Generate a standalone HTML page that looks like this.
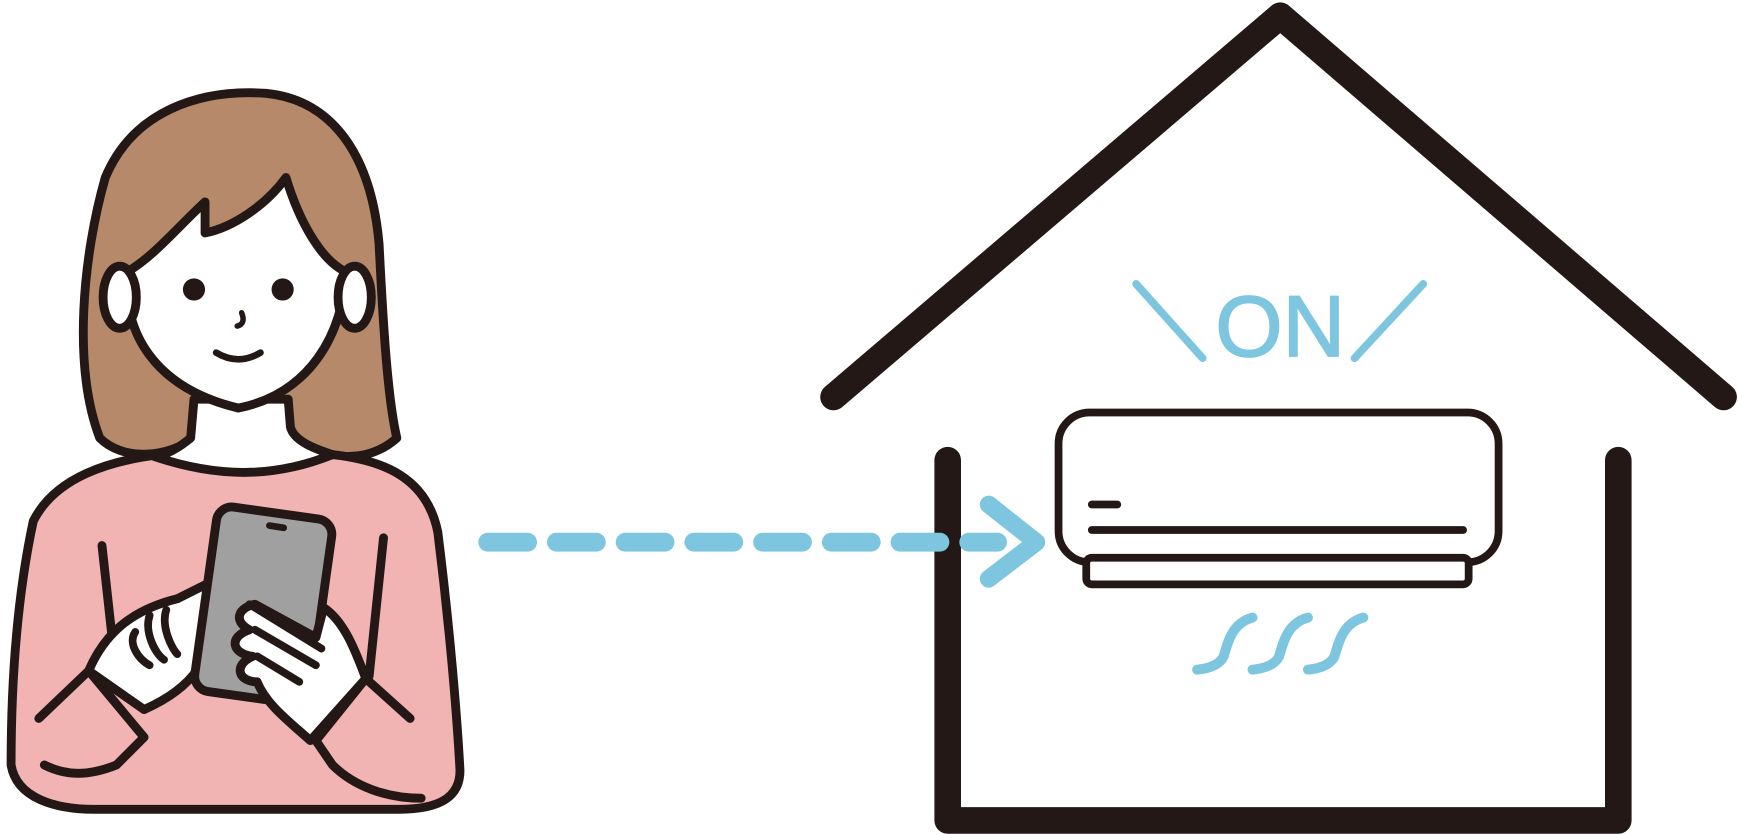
<!DOCTYPE html>
<html><head><style>html,body{margin:0;padding:0;background:#fff;}svg{display:block}</style></head>
<body>
<svg width="1738" height="835" viewBox="0 0 1568 753" xmlns="http://www.w3.org/2000/svg">
<g stroke="#231815" stroke-linecap="round" stroke-linejoin="round" fill="none">
<polyline points="752,358 1155,14 1555,358" stroke-width="24"/>
<polyline points="855,415 855,740 1460,740 1460,415" stroke-width="24"/>
<rect x="955" y="372" width="397" height="135" rx="28" fill="#fff" stroke-width="7"/>
<rect x="980" y="503" width="345" height="24" rx="5" fill="#fff" stroke-width="7"/>
<line x1="985" y1="455" x2="1008" y2="455" stroke-width="7"/>
<line x1="985" y1="478" x2="1320" y2="478" stroke-width="7"/>
</g>
<g stroke="#7ec6e0" stroke-linecap="round" fill="none">
<line x1="1025" y1="256" x2="1085" y2="323" stroke-width="7"/>
<line x1="1284" y1="256" x2="1222" y2="323" stroke-width="7"/>
<path d="M1130,557 C1112,562 1108,578 1104,592 C1100,600 1090,603 1080,604" stroke-width="9"/>
<path d="M1180,557 C1162,562 1158,578 1154,592 C1150,600 1140,603 1130,604" stroke-width="9"/>
<path d="M1230,557 C1212,562 1208,578 1204,592 C1200,600 1190,603 1180,604" stroke-width="9"/>
<line x1="440" y1="489" x2="900" y2="489" stroke-width="17" stroke-dasharray="36,26"/>
<polyline points="892,455 935,489 892,522" stroke-width="16" stroke-linejoin="round"/>
</g>
<text x="1155" y="321" text-anchor="middle" font-family="Liberation Sans, sans-serif" font-size="78" fill="#7ec6e0" stroke="#7ec6e0" stroke-width="1.5">ON</text>
<g stroke="#231815" stroke-width="8" stroke-linecap="round" stroke-linejoin="round">
<path d="M90,395 C65,330 75,230 95,160 C120,100 180,80 240,84 C300,90 335,140 342,220 C346,300 350,360 358,395 C330,420 290,415 260,392 L180,392 C150,415 110,415 90,395 Z" fill="#b5896a"/>
<path d="M30,470 C50,430 100,415 145,410 L300,410 C345,415 385,430 395,480 C405,560 412,640 415,695 C415,720 395,730 360,730 L85,730 C50,730 15,720 10,690 C10,620 15,540 30,470 Z" fill="#f2b3b3"/>
<path d="M175,360 L172,395 C160,405 150,410 140,412 C200,432 250,430 300,410 C285,405 265,398 262,385 L260,360 Z" fill="#fff"/>
<path d="M115,245 C110,300 140,350 215,368 C280,355 310,300 312,245 C290,235 270,200 258,160 C240,185 210,205 185,210 L185,182 C160,205 140,230 115,245 Z" fill="#fff"/>
<ellipse cx="108" cy="268" rx="15" ry="28" fill="#fff"/>
<ellipse cx="320" cy="268" rx="15" ry="28" fill="#fff"/>
<path d="M195,318 Q215,330 235,318" fill="none" stroke-width="6"/>
<path d="M218,282 Q222,292 214,294" fill="none" stroke-width="5"/>
<path d="M92,492 L105,610 M346,485 L333,610" fill="none"/>
<path d="M35,648 L80,605 M370,648 L330,612" fill="none"/>
<path d="M80,605 L130,665 L105,690 C80,700 60,700 40,690" fill="none"/>
<path d="M330,612 L285,668 L300,690 C320,710 350,720 380,720" fill="none"/>
<path d="M80,605 C95,570 120,550 160,540 L200,520 L205,545 L185,560 C195,590 175,620 130,640 Z" fill="#fff"/>
<rect x="185" y="462" width="105" height="168" rx="14" transform="rotate(8 238 546)" fill="#a0a0a0"/>
<line x1="243" y1="474" x2="256" y2="476" stroke-width="6"/>
<path d="M230,545 C215,548 210,560 225,568 C205,575 210,590 228,592 C210,600 215,615 232,615 C240,635 260,650 280,668 L330,612 C320,585 310,560 292,548 L285,575 Z" fill="#fff"/>
<path d="M122,570 C115,580 125,595 135,600 M135,555 C130,570 140,590 148,595 M150,550 C145,565 155,585 160,590" fill="none" stroke-width="7"/>
<path d="M230,568 L285,600 M232,592 L270,615 M225,545 L290,585" fill="none" stroke-width="7"/>
</g>
<g fill="#231815">
<circle cx="175" cy="261" r="10"/>
<circle cx="255" cy="261" r="10"/>
</g>
</svg>
</body></html>
